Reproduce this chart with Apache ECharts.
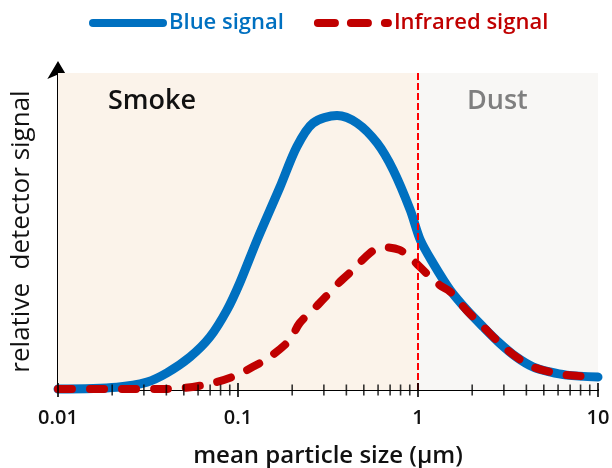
<!DOCTYPE html>
<html>
<head>
<meta charset="utf-8">
<script src="https://cdn.jsdelivr.net/npm/echarts@6/dist/echarts.min.js"></script>
<style>html,body{margin:0;padding:0;background:#fff}#c{width:612px;height:468px}</style>
</head>
<body>
<div id="c"></div>
<script>
var blueX = [0.01, 0.0212, 0.0312, 0.0403, 0.0541, 0.0698, 0.0868, 0.1023, 0.128, 0.171, 0.212, 0.261, 0.355, 0.459, 0.593, 0.728, 0.905, 1.03, 1.21, 1.51, 1.87, 2.30, 2.84, 3.52, 4.35, 5.40, 6.70, 10];
var blueY = [0.3, 0.9, 2.5, 5.4, 10.4, 16.7, 25.2, 33.8, 47.5, 64.0, 76.7, 84.2, 86.6, 84.2, 77.9, 69.4, 56.8, 47.3, 40.1, 31.5, 25.2, 19.9, 14.8, 10.4, 7.3, 5.7, 4.7, 4.1];
var redX = [0.01, 0.02, 0.035, 0.0496, 0.0727, 0.0987, 0.121, 0.150, 0.194, 0.22, 0.284, 0.368, 0.435, 0.54, 0.63, 0.79, 0.935, 1.11, 1.32, 1.51, 1.87, 2.30, 2.84, 3.52, 4.35, 5.40, 6.70, 10];
var redY = [0.3, 0.3, 0.3, 0.6, 2.2, 4.7, 7.3, 10.4, 15.8, 21.1, 27.4, 34.1, 37.9, 43.2, 45.1, 44.2, 41.0, 36.9, 33.1, 31.0, 25.0, 20.0, 14.8, 10.4, 7.3, 5.7, 4.7, 4.1];
var majorTicks = [0.01, 0.1, 1, 10];
var minorTicks = [0.02,0.03,0.04,0.05,0.06,0.07,0.08,0.09,0.2,0.3,0.4,0.5,0.6,0.7,0.8,0.9,2,3,4,5,6,7,8,9];
var xLabels = ['0.01', '0.1', '1', '10'];
var regions = [{name: 'Smoke', from: 0.01, to: 1}, {name: 'Dust', from: 1, to: 10}];
var boundary = 1;

function pairs(xs, ys) { return xs.map(function (x, i) { return [x, ys[i]]; }); }
var FONT = '"Open Sans", "Noto Sans", sans-serif';
var blueIcon = 'path://M4,0h70a4,4 0 0 1 0,8h-70a4,4 0 0 1 0,-8z';
var redIcon = 'path://M4,0h17a4,4 0 0 1 0,8h-17a4,4 0 0 1 0,-8zM37,0h17a4,4 0 0 1 0,8h-17a4,4 0 0 1 0,-8zM71,0h3a4,4 0 0 1 0,8h-3a4,4 0 0 1 0,-8z';

var chart = echarts.init(document.getElementById('c'), null, {renderer: 'canvas'});
chart.setOption({
  animation: false,
  backgroundColor: '#ffffff',
  textStyle: {fontFamily: FONT},
  grid: {left: 58, right: 14, top: 73, bottom: 78, containLabel: false, outerBoundsMode: 'none'},
  legend: {
    top: 7, left: 84, itemWidth: 78, itemHeight: 8, itemGap: 30,
    data: [
      {name: 'Blue signal', icon: blueIcon, textStyle: {color: '#0070C0'}},
      {name: 'Infrared signal', icon: redIcon, textStyle: {color: '#C00000'}}
    ],
    textStyle: {fontSize: 22, fontWeight: 600, fontFamily: FONT, padding: [0, 0, 0, -3]}
  },
  xAxis: {
    type: 'log', logBase: 10, min: 0.01, max: 10,
    name: 'mean particle size (\u03bcm)', nameLocation: 'middle', nameGap: 54,
    nameTextStyle: {fontSize: 24, fontWeight: 600, color: '#111', fontFamily: FONT},
    axisLine: {lineStyle: {color: '#000', width: 2}},
    axisTick: {show: false},
    splitLine: {show: false},
    axisLabel: {
      fontSize: 20, color: '#111', fontWeight: 600, margin: 18, fontFamily: FONT,
      formatter: function (v) {
        for (var i = 0; i < majorTicks.length; i++) {
          if (Math.abs(Math.log10(v) - Math.log10(majorTicks[i])) < 1e-6) return xLabels[i];
        }
        return '';
      }
    }
  },
  yAxis: {
    type: 'value', min: 0, max: 100,
    name: 'relative  detector signal', nameLocation: 'middle', nameGap: 23,
    nameTextStyle: {fontSize: 26, color: '#111', fontFamily: FONT},
    axisLine: {show: true, lineStyle: {color: '#000', width: 2}, symbol: ['none', 'arrow'], symbolSize: [16, 18], symbolOffset: [0, 12]},
    axisTick: {show: false}, axisLabel: {show: false}, splitLine: {show: false}
  },
  series: [
    {
      name: 'regions', type: 'line', data: [], silent: true,
      markArea: {
        silent: true,
        data: [
          [{xAxis: regions[0].from, itemStyle: {color: '#FBF3EA'},
            label: {show: true, position: [50, 15], color: '#111', fontSize: 27, fontWeight: 600, fontFamily: FONT},
            name: regions[0].name}, {xAxis: regions[0].to}],
          [{xAxis: regions[1].from, itemStyle: {color: '#F8F7F5'},
            label: {show: true, position: [49, 15], color: '#7F7F7F', fontSize: 27, fontWeight: 600, fontFamily: FONT},
            name: regions[1].name}, {xAxis: regions[1].to}]
        ]
      },
      markLine: {
        silent: true, symbol: ['none', 'none'], label: {show: false},
        lineStyle: {color: '#FF0000', width: 2, type: [7, 3]},
        data: [{xAxis: boundary}]
      }
    },
    {
      name: 'Blue signal', type: 'line', smooth: 0.3, symbol: 'none',
      data: pairs(blueX, blueY), z: 3,
      lineStyle: {color: '#0070C0', width: 9, cap: 'round', join: 'round'},
      itemStyle: {color: '#0070C0'}
    },
    {
      name: 'Infrared signal', type: 'line', smooth: 0.3, symbol: 'none',
      data: pairs(redX, redY), z: 4,
      lineStyle: {color: '#C00000', width: 8, type: [14, 18], cap: 'round', join: 'round'},
      itemStyle: {color: '#C00000'}
    },
    {
      name: 'minorTicks', type: 'scatter', silent: true, z: 5,
      symbol: 'rect', symbolSize: [1.6, 11],
      itemStyle: {color: '#000'},
      data: minorTicks.map(function (t) { return [t, 0]; })
    },
    {
      name: 'majorTicks', type: 'scatter', silent: true, z: 5,
      symbol: 'rect', symbolSize: [2, 14],
      itemStyle: {color: '#000'},
      data: majorTicks.map(function (t) { return [t, 0]; })
    }
  ]
});
</script>
</body>
</html>
